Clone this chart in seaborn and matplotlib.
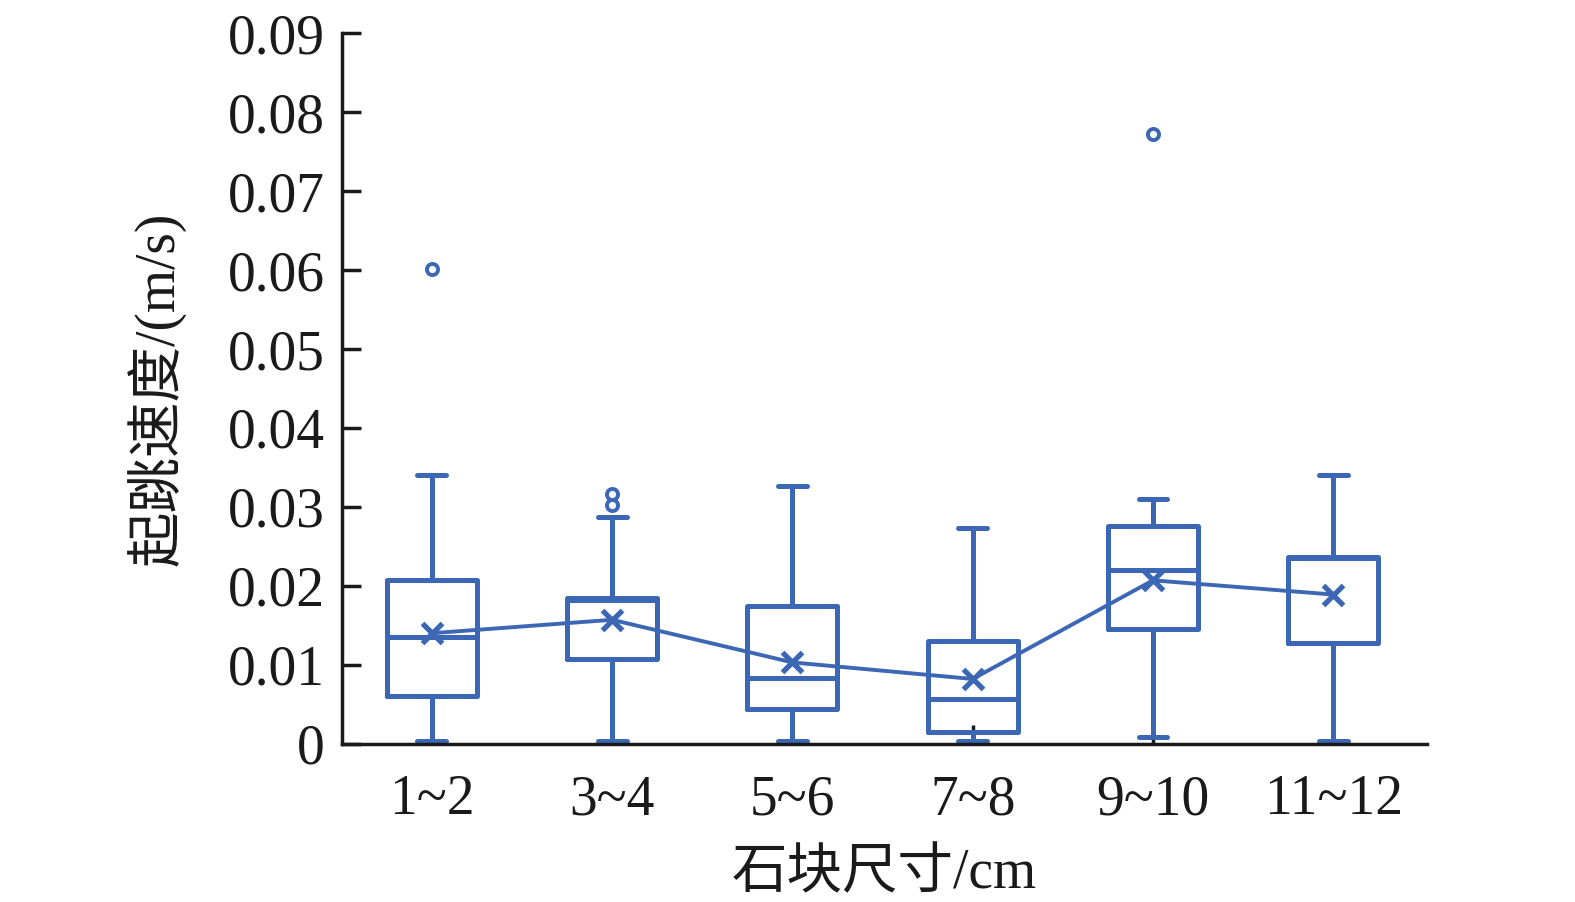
import matplotlib
matplotlib.use("Agg")
import matplotlib.pyplot as plt
import seaborn as sns
import pandas as pd

# size classes and box statistics (m/s)
sizes = ["1~2", "3~4", "5~6", "7~8", "9~10", "11~12"]
whis_lo = [0.0003, 0.0003, 0.0003, 0.0003, 0.0008, 0.0003]
q1 = [0.0060, 0.0107, 0.0044, 0.0015, 0.0145, 0.0127]
median = [0.0135, 0.0182, 0.0083, 0.0057, 0.0220, 0.0235]
q3 = [0.0207, 0.0185, 0.0174, 0.0130, 0.0276, 0.0237]
whis_hi = [0.0340, 0.0287, 0.0326, 0.0273, 0.0310, 0.0340]
means = [0.0140, 0.0157, 0.0103, 0.0082, 0.0207, 0.0189]
outliers = [[0.0601], [0.0302, 0.0316], [], [], [0.0773], []]

BLUE = "#3c67b4"

sns.set_theme(style="ticks")
plt.rcParams["font.family"] = ["Liberation Serif", "Noto Sans CJK SC"]

fig = plt.figure(figsize=(15.75, 9.02), dpi=100)
ax = fig.add_axes([0.217, 0.1755, 0.689, 0.7875])

stats = []
for i, lab in enumerate(sizes):
    stats.append({"label": lab, "whislo": whis_lo[i], "q1": q1[i], "med": median[i],
                  "q3": q3[i], "whishi": whis_hi[i], "fliers": outliers[i]})

line_kw = dict(color=BLUE, linewidth=3.6)
ax.bxp(stats, positions=range(len(sizes)), widths=0.5, showmeans=False,
       boxprops=line_kw, whiskerprops=line_kw, capprops=line_kw, medianprops=line_kw,
       flierprops=dict(marker="o", markersize=8, markerfacecolor="white",
                       markeredgecolor=BLUE, markeredgewidth=2.8),
       capwidths=0.16)

mean_df = pd.DataFrame({"pos": range(len(sizes)), "mean": means})
sns.lineplot(data=mean_df, x="pos", y="mean", ax=ax, color=BLUE, linewidth=2.8,
             marker="x", markersize=14, markeredgewidth=3.8, markeredgecolor=BLUE)

ax.set_xlim(-0.5, 5.52)
ax.set_ylim(0, 0.09)
ax.set_yticks([i / 100 for i in range(10)])
ax.set_yticklabels(["0"] + [f"{i / 100:.2f}" for i in range(1, 10)])
ax.set_xticks(range(len(sizes)))
ax.set_xticklabels(sizes)
ax.tick_params(axis="both", direction="in", labelsize=40, width=2.5, length=14,
               color="#1a1a1a", labelcolor="#1a1a1a", pad=12)
ax.tick_params(axis="x", pad=22)

for side in ["top", "right"]:
    ax.spines[side].set_visible(False)
for side in ["left", "bottom"]:
    ax.spines[side].set_linewidth(2.5)
    ax.spines[side].set_color("#1a1a1a")

ax.set_xlabel("石块尺寸/cm", fontsize=40, color="#1a1a1a", labelpad=16)
ax.set_ylabel("起跳速度/(m/s)", fontsize=40, color="#1a1a1a", labelpad=30)

fig.savefig("out.png", dpi=100)
